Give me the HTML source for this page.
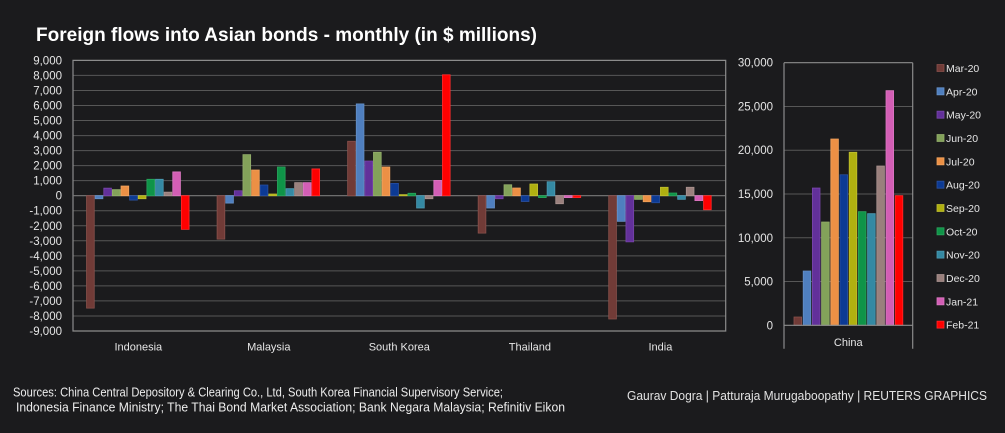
<!DOCTYPE html>
<html><head><meta charset="utf-8"><style>
html,body{margin:0;padding:0;background:#1b1b1d;}
svg{display:block;font-family:"Liberation Sans",sans-serif;}
.c0{fill:#713b37;stroke:#8a514c}.c1{fill:#4f7fbf;stroke:#6590c8}.c2{fill:#62309a;stroke:#7846aa}
.c3{fill:#83a25a;stroke:#95b06c}.c4{fill:#ec9045;stroke:#f2a35e}.c5{fill:#0c3a94;stroke:#2a50a0}
.c6{fill:#b0b010;stroke:#c0c030}.c7{fill:#0f9448;stroke:#2aa35c}.c8{fill:#3489a3;stroke:#4c9ab2}
.c9{fill:#9a807d;stroke:#ab9491}.c10{fill:#d35eb5;stroke:#dc78c2}.c11{fill:#ff0000;stroke:#ff2a2a}
rect{stroke-width:0.8;vector-effect:non-scaling-stroke}
.yl{fill:#e6e6e6;font-size:11.5px;text-anchor:end}
.cl{fill:#e6e6e6;font-size:11px;text-anchor:middle}
.lg{fill:#e6e6e6;font-size:10.5px}
.g{stroke:#575757;stroke-width:1}
</style></head><body>
<svg width="1005" height="433" viewBox="0 0 1005 433" xmlns="http://www.w3.org/2000/svg">
<rect x="0" y="0" width="1005" height="433" fill="#1b1b1d" style="stroke:none"/>
<text x="36" y="41" fill="#ffffff" font-weight="bold" font-size="19.5" textLength="501" lengthAdjust="spacingAndGlyphs">Foreign flows into Asian bonds - monthly (in $ millions)</text>

<!-- left grid -->
<g class="g">
<line x1="73" x2="725.7" y1="75.43" y2="75.43"/><line x1="73" x2="725.7" y1="90.47" y2="90.47"/>
<line x1="73" x2="725.7" y1="105.5" y2="105.5"/><line x1="73" x2="725.7" y1="120.53" y2="120.53"/>
<line x1="73" x2="725.7" y1="135.57" y2="135.57"/><line x1="73" x2="725.7" y1="150.6" y2="150.6"/>
<line x1="73" x2="725.7" y1="165.63" y2="165.63"/><line x1="73" x2="725.7" y1="180.67" y2="180.67"/>
<line x1="73" x2="725.7" y1="210.73" y2="210.73"/><line x1="73" x2="725.7" y1="225.77" y2="225.77"/>
<line x1="73" x2="725.7" y1="240.8" y2="240.8"/><line x1="73" x2="725.7" y1="255.83" y2="255.83"/>
<line x1="73" x2="725.7" y1="270.87" y2="270.87"/><line x1="73" x2="725.7" y1="285.9" y2="285.9"/>
<line x1="73" x2="725.7" y1="300.93" y2="300.93"/><line x1="73" x2="725.7" y1="315.96" y2="315.96"/>
</g>
<rect x="73" y="60.4" width="652.7" height="270.6" fill="none" style="stroke:#8c8c8c;stroke-width:1.2"/>
<line x1="73" x2="725.7" y1="195.7" y2="195.7" stroke="#7a7a7a" stroke-width="1.2"/>

<g>
<text class="yl" x="62" y="64.4">9,000</text><text class="yl" x="62" y="79.4">8,000</text>
<text class="yl" x="62" y="94.5">7,000</text><text class="yl" x="62" y="109.5">6,000</text>
<text class="yl" x="62" y="124.5">5,000</text><text class="yl" x="62" y="139.6">4,000</text>
<text class="yl" x="62" y="154.6">3,000</text><text class="yl" x="62" y="169.6">2,000</text>
<text class="yl" x="62" y="184.7">1,000</text><text class="yl" x="62" y="199.7">0</text>
<text class="yl" x="62" y="214.7">-1,000</text><text class="yl" x="62" y="229.8">-2,000</text>
<text class="yl" x="62" y="244.8">-3,000</text><text class="yl" x="62" y="259.8">-4,000</text>
<text class="yl" x="62" y="274.9">-5,000</text><text class="yl" x="62" y="289.9">-6,000</text>
<text class="yl" x="62" y="304.9">-7,000</text><text class="yl" x="62" y="320">-8,000</text>
<text class="yl" x="62" y="335">-9,000</text>
</g>

<!-- Indonesia -->
<g transform="translate(86.55,195.7) scale(1,-0.015033)">
<rect class="c0" x="0" y="-7480" width="7.7" height="7480"/>
<rect class="c1" x="8.62" y="-200" width="7.7" height="200"/>
<rect class="c2" x="17.24" y="0" width="7.7" height="500"/>
<rect class="c3" x="25.86" y="0" width="7.7" height="400"/>
<rect class="c4" x="34.48" y="0" width="7.7" height="640"/>
<rect class="c5" x="43.1" y="-290" width="7.7" height="290"/>
<rect class="c6" x="51.72" y="-200" width="7.7" height="200"/>
<rect class="c7" x="60.34" y="0" width="7.7" height="1090"/>
<rect class="c8" x="68.96" y="0" width="7.7" height="1090"/>
<rect class="c9" x="77.58" y="0" width="7.7" height="240"/>
<rect class="c10" x="86.2" y="0" width="7.7" height="1580"/>
<rect class="c11" x="94.82" y="-2240" width="7.7" height="2240"/>
</g>
<!-- Malaysia -->
<g transform="translate(217.09,195.7) scale(1,-0.015033)">
<rect class="c0" x="0" y="-2890" width="7.7" height="2890"/>
<rect class="c1" x="8.62" y="-490" width="7.7" height="490"/>
<rect class="c2" x="17.24" y="0" width="7.7" height="330"/>
<rect class="c3" x="25.86" y="0" width="7.7" height="2730"/>
<rect class="c4" x="34.48" y="0" width="7.7" height="1710"/>
<rect class="c5" x="43.1" y="0" width="7.7" height="710"/>
<rect class="c6" x="51.72" y="0" width="7.7" height="110"/>
<rect class="c7" x="60.34" y="0" width="7.7" height="1910"/>
<rect class="c8" x="68.96" y="0" width="7.7" height="470"/>
<rect class="c9" x="77.58" y="0" width="7.7" height="870"/>
<rect class="c10" x="86.2" y="0" width="7.7" height="870"/>
<rect class="c11" x="94.82" y="0" width="7.7" height="1780"/>
</g>
<!-- South Korea -->
<g transform="translate(347.63,195.7) scale(1,-0.015033)">
<rect class="c0" x="0" y="0" width="7.7" height="3620"/>
<rect class="c1" x="8.62" y="0" width="7.7" height="6110"/>
<rect class="c2" x="17.24" y="0" width="7.7" height="2310"/>
<rect class="c3" x="25.86" y="0" width="7.7" height="2890"/>
<rect class="c4" x="34.48" y="0" width="7.7" height="1910"/>
<rect class="c5" x="43.1" y="0" width="7.7" height="820"/>
<rect class="c6" x="51.72" y="0" width="7.7" height="70"/>
<rect class="c7" x="60.34" y="0" width="7.7" height="160"/>
<rect class="c8" x="68.96" y="-820" width="7.7" height="820"/>
<rect class="c9" x="77.58" y="-200" width="7.7" height="200"/>
<rect class="c10" x="86.2" y="0" width="7.7" height="1020"/>
<rect class="c11" x="94.82" y="0" width="7.7" height="8040"/>
</g>
<!-- Thailand -->
<g transform="translate(478.17,195.7) scale(1,-0.015033)">
<rect class="c0" x="0" y="-2490" width="7.7" height="2490"/>
<rect class="c1" x="8.62" y="-820" width="7.7" height="820"/>
<rect class="c2" x="17.24" y="-200" width="7.7" height="200"/>
<rect class="c3" x="25.86" y="0" width="7.7" height="730"/>
<rect class="c4" x="34.48" y="0" width="7.7" height="510"/>
<rect class="c5" x="43.1" y="-380" width="7.7" height="380"/>
<rect class="c6" x="51.72" y="0" width="7.7" height="780"/>
<rect class="c7" x="60.34" y="-130" width="7.7" height="130"/>
<rect class="c8" x="68.96" y="0" width="7.7" height="930"/>
<rect class="c9" x="77.58" y="-530" width="7.7" height="530"/>
<rect class="c10" x="86.2" y="-130" width="7.7" height="130"/>
<rect class="c11" x="94.82" y="-130" width="7.7" height="130"/>
</g>
<!-- India -->
<g transform="translate(608.71,195.7) scale(1,-0.015033)">
<rect class="c0" x="0" y="-8200" width="7.7" height="8200"/>
<rect class="c1" x="8.62" y="-1710" width="7.7" height="1710"/>
<rect class="c2" x="17.24" y="-3070" width="7.7" height="3070"/>
<rect class="c3" x="25.86" y="-240" width="7.7" height="240"/>
<rect class="c4" x="34.48" y="-400" width="7.7" height="400"/>
<rect class="c5" x="43.1" y="-470" width="7.7" height="470"/>
<rect class="c6" x="51.72" y="0" width="7.7" height="560"/>
<rect class="c7" x="60.34" y="0" width="7.7" height="180"/>
<rect class="c8" x="68.96" y="-240" width="7.7" height="240"/>
<rect class="c9" x="77.58" y="0" width="7.7" height="560"/>
<rect class="c10" x="86.2" y="-330" width="7.7" height="330"/>
<rect class="c11" x="94.82" y="-930" width="7.7" height="930"/>
</g>

<text class="cl" x="138.3" y="350.5">Indonesia</text>
<text class="cl" x="268.8" y="350.5">Malaysia</text>
<text class="cl" x="399.3" y="350.5">South Korea</text>
<text class="cl" x="529.9" y="350.5">Thailand</text>
<text class="cl" x="660.4" y="350.5">India</text>

<!-- right chart -->
<g class="g">
<line x1="784" x2="912.7" y1="106.47" y2="106.47"/><line x1="784" x2="912.7" y1="150.23" y2="150.23"/>
<line x1="784" x2="912.7" y1="194" y2="194"/><line x1="784" x2="912.7" y1="237.77" y2="237.77"/>
<line x1="784" x2="912.7" y1="281.53" y2="281.53"/>
</g>
<g stroke="#8c8c8c" stroke-width="1.2">
<line x1="784" x2="912.7" y1="62.7" y2="62.7"/>
<line x1="784" x2="784" y1="62.7" y2="348.7"/>
<line x1="912.7" x2="912.7" y1="62.7" y2="348.7"/>
</g>
<text class="yl" x="773" y="66.7">30,000</text>
<text class="yl" x="773" y="110.5">25,000</text>
<text class="yl" x="773" y="154.2">20,000</text>
<text class="yl" x="773" y="198">15,000</text>
<text class="yl" x="773" y="241.8">10,000</text>
<text class="yl" x="773" y="285.5">5,000</text>
<text class="yl" x="773" y="329.3">0</text>

<g transform="translate(794,325.3) scale(1,-0.0087533)">
<rect class="c0" x="0" y="0" width="7.6" height="950"/>
<rect class="c1" x="9.2" y="0" width="7.6" height="6200"/>
<rect class="c2" x="18.4" y="0" width="7.6" height="15680"/>
<rect class="c3" x="27.6" y="0" width="7.6" height="11800"/>
<rect class="c4" x="36.8" y="0" width="7.6" height="21280"/>
<rect class="c5" x="46" y="0" width="7.6" height="17200"/>
<rect class="c6" x="55.2" y="0" width="7.6" height="19760"/>
<rect class="c7" x="64.4" y="0" width="7.6" height="12980"/>
<rect class="c8" x="73.6" y="0" width="7.6" height="12750"/>
<rect class="c9" x="82.8" y="0" width="7.6" height="18200"/>
<rect class="c10" x="92" y="0" width="7.6" height="26800"/>
<rect class="c11" x="101.2" y="0" width="7.6" height="14810"/>
</g>
<line x1="784" x2="912.7" y1="325.3" y2="325.3" stroke="#8c8c8c" stroke-width="1.2"/>
<text class="cl" x="848.3" y="346">China</text>

<!-- legend -->
<g>
<rect class="c0" x="937" y="64.5" width="7" height="7"/><text class="lg" x="946" y="72">Mar-20</text>
<rect class="c1" x="937" y="87.8" width="7" height="7"/><text class="lg" x="946" y="95.3">Apr-20</text>
<rect class="c2" x="937" y="111.2" width="7" height="7"/><text class="lg" x="946" y="118.7">May-20</text>
<rect class="c3" x="937" y="134.5" width="7" height="7"/><text class="lg" x="946" y="142">Jun-20</text>
<rect class="c4" x="937" y="157.8" width="7" height="7"/><text class="lg" x="946" y="165.3">Jul-20</text>
<rect class="c5" x="937" y="181.2" width="7" height="7"/><text class="lg" x="946" y="188.7">Aug-20</text>
<rect class="c6" x="937" y="204.5" width="7" height="7"/><text class="lg" x="946" y="212">Sep-20</text>
<rect class="c7" x="937" y="227.8" width="7" height="7"/><text class="lg" x="946" y="235.3">Oct-20</text>
<rect class="c8" x="937" y="251.1" width="7" height="7"/><text class="lg" x="946" y="258.6">Nov-20</text>
<rect class="c9" x="937" y="274.5" width="7" height="7"/><text class="lg" x="946" y="282">Dec-20</text>
<rect class="c10" x="937" y="297.8" width="7" height="7"/><text class="lg" x="946" y="305.3">Jan-21</text>
<rect class="c11" x="937" y="321.1" width="7" height="7"/><text class="lg" x="946" y="328.6">Feb-21</text>
</g>

<!-- footer -->
<text x="13" y="396.5" fill="#ececec" font-size="12.5" textLength="490" lengthAdjust="spacingAndGlyphs">Sources: China Central Depository &amp; Clearing Co., Ltd, South Korea Financial Supervisory Service;</text>
<text x="16" y="411.5" fill="#ececec" font-size="12.5" textLength="549" lengthAdjust="spacingAndGlyphs">Indonesia Finance Ministry; The Thai Bond Market Association; Bank Negara Malaysia; Refinitiv Eikon</text>
<text x="627" y="400" fill="#e2e2e2" font-size="13" textLength="360" lengthAdjust="spacingAndGlyphs">Gaurav Dogra | Patturaja Murugaboopathy | REUTERS GRAPHICS</text>
</svg>
</body></html>
